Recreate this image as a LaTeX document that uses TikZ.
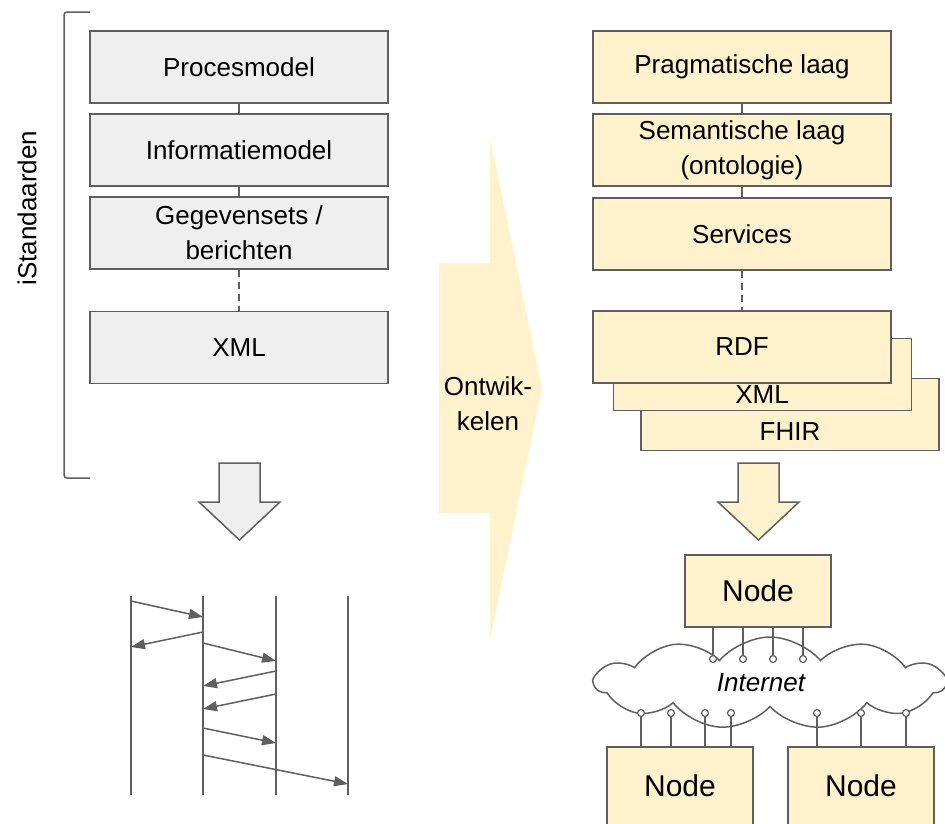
\documentclass[tikz,border=0pt]{standalone}
\usepackage{fontspec}
\setmainfont{Liberation Sans}
\usetikzlibrary{shapes,shapes.symbols,arrows.meta,calc}
\definecolor{boxgrey}{HTML}{EFEFEF}
\definecolor{boxyellow}{HTML}{FFF2CC}
\definecolor{linegrey}{HTML}{5F5F5F}

\begin{document}
\begin{tikzpicture}[x=1pt,y=-1pt,
  every node/.style={font=\fontsize{26}{35}\selectfont, align=center},
  greybox/.style={draw=linegrey, line width=1.5pt, fill=boxgrey, minimum width=298pt, minimum height=72pt, inner sep=0pt},
  yellowbox/.style={greybox, fill=boxyellow},
  netnode/.style={yellowbox, minimum width=146pt, font=\fontsize{30}{36}\selectfont},
  port/.style={circle, draw=linegrey, fill=white, line width=1.2pt, minimum size=7pt, inner sep=0pt},
  wire/.style={draw=linegrey, line width=1.5pt},
  gap/.style={wire, dash pattern=on 7pt off 5pt},
  msg/.style={wire, -{Triangle[length=14pt,width=10pt]}}]
\clip (0,0) rectangle (945,823);

\node[greybox] (proc) at (239,67) {Procesmodel};
\node[greybox] (info) at (239,150) {Informatiemodel};
\node[greybox] (geg) at (239,233) {Gegevensets /\\berichten};
\node[greybox] (xmll) at (239,347.5) {XML};
\draw[wire] (proc) -- (info);
\draw[wire] (info) -- (geg);
\draw[gap] (geg) -- (xmll);

\draw[wire, rounded corners=3pt] (90,12) -- (64,12) -- (64,478) -- (90,478);
\node[rotate=90] (istd) at (27,208) {iStandaarden};

\draw[wire, fill=boxgrey] (219,463) -- (260,463) -- (260,502) -- (280,502) -- (239.5,540) -- (199,502) -- (219,502) -- cycle;

\foreach \x/\n in {131/la, 203/lb, 276/lc, 348/ld}
  {\coordinate (\n) at (\x,596); \draw[wire] (\n) -- ++(0,199);}
\draw[msg] ($(la)+(0,5)$) -- ($(lb)+(0,21)$);
\draw[msg] ($(lb)+(0,36)$) -- ($(la)+(0,51)$);
\draw[msg] ($(lb)+(0,47)$) -- ($(lc)+(0,65)$);
\draw[msg] ($(lc)+(0,75)$) -- ($(lb)+(0,90)$);
\draw[msg] ($(lc)+(0,98)$) -- ($(lb)+(0,113)$);
\draw[msg] ($(lb)+(0,132)$) -- ($(lc)+(0,147)$);
\draw[msg] ($(lb)+(0,159)$) -- ($(ld)+(0,188)$);

\fill[boxyellow] (439,263) -- (490,263) -- (490,138) -- (542,388) -- (490,640) -- (490,513) -- (439,513) -- cycle;
\node (dev) at (488,404) {Ontwik-\\kelen};

\node[yellowbox] (prag) at (742,67) {Pragmatische laag};
\node[yellowbox] (sem) at (742,150) {Semantische laag\\(ontologie)};
\node[yellowbox] (serv) at (742,234) {Services};
\node[yellowbox] (fhir) at (790,414.5) {};
\node (fhirtxt) at (790,432) {FHIR};
\node[yellowbox] (xmlr) at (762.5,374.5) {};
\node (xmltxt) at (762,395) {XML};
\node[yellowbox] (rdf) at (742,347) {RDF};
\draw[wire] (prag) -- (sem);
\draw[wire] (sem) -- (serv);
\draw[gap] (serv) -- (rdf);

\draw[wire, fill=boxyellow] (738,463) -- (779,463) -- (779,502) -- (799,502) -- (758.5,540) -- (718,502) -- (738,502) -- cycle;

\node[cloud, draw=linegrey, line width=1.5pt, fill=white, cloud puffs=11, cloud puff arc=100, aspect=3.8, minimum width=350pt, minimum height=92pt] (net) at (770,683) {};
\node[font=\fontsize{26}{35}\selectfont\itshape] (nettxt) at (761,683) {Internet};

\node[netnode] (tnode) at (758,591) {Node};
\node[netnode, minimum height=78pt] (lnode) at (680,786) {Node};
\node[netnode, minimum height=78pt] (rnode) at (861,786) {Node};

\foreach \x [count=\i] in {713,743,773,803}
  {\node[port] (t\i) at (\x,659) {}; \draw[wire] (tnode.south -| t\i) -- (t\i.north);}
\foreach \x [count=\i] in {641,671,705,731}
  {\node[port] (b\i) at (\x,713) {}; \draw[wire] (b\i.south) -- (lnode.north -| b\i);}
\foreach \x [count=\i] in {817,861,906}
  {\node[port] (c\i) at (\x,713) {}; \draw[wire] (c\i.south) -- (rnode.north -| c\i);}

\end{tikzpicture}
\end{document}
